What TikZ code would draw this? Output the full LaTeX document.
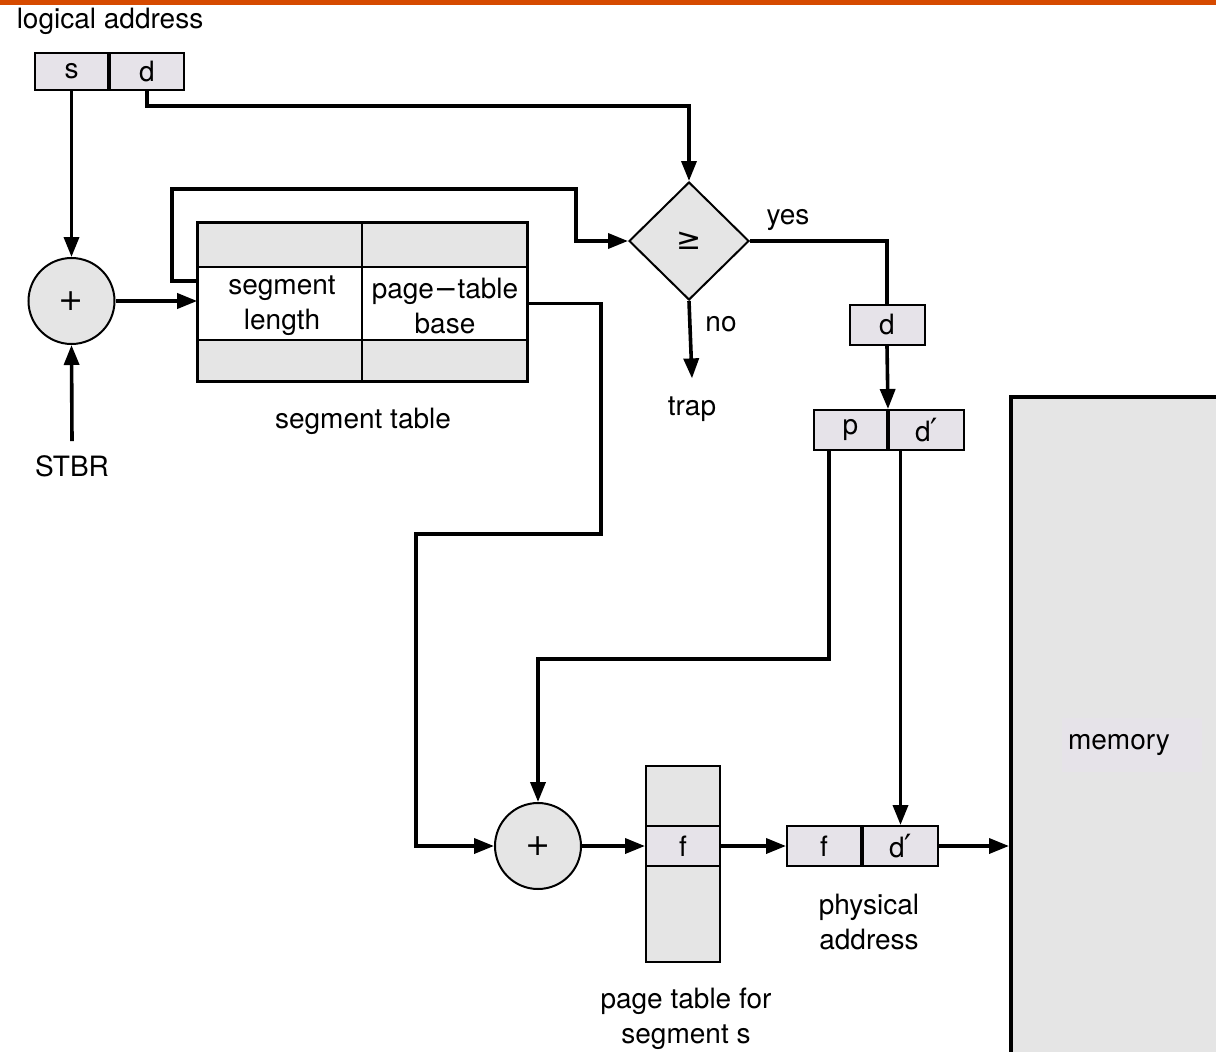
\documentclass[tikz,border=0pt]{standalone}
\usepackage{amsmath}
\usepackage{amssymb}
\usepackage{fontspec}
\setmainfont{TeX Gyre Heros}
\newfontfamily\symfont{DejaVu Sans}
\usepackage{tikz}
\usetikzlibrary{positioning, arrows.meta, shapes.geometric, calc}
\definecolor{barorange}{HTML}{D64A00}
\definecolor{cellgray}{HTML}{E5E5E5}
\definecolor{boxgray}{HTML}{E6E3E9}
\newcommand{\dprime}{d{\symfont\fontsize{32}{32}\selectfont ′}}
\newcommand{\plussign}{{\symfont\fontsize{30}{30}\selectfont +}}
\tikzset{
  wire/.style={line width=3.6pt},
  arr/.style={wire, -{Triangle[length=20pt, width=15pt]}},
  cell/.style={draw, line width=2pt, fill=boxgray, inner sep=0pt, minimum height=40pt},
  tabcell/.style={draw, line width=1.6pt, fill=cellgray, inner sep=0pt, align=center},
  adder/.style={circle, draw, line width=2pt, fill=cellgray, minimum size=86pt, inner sep=0pt},
  lbl/.style={align=center, inner sep=0pt}
}

\begin{document}
\begin{tikzpicture}[x=1pt, y=-1pt, font=\fontsize{28}{35}\selectfont]
    \useasboundingbox (0,0) rectangle (1216,1052);
    \clip (0,0) rectangle (1216,1052);
    % Top bar
    \fill[barorange] (0,0) rectangle (1216,5);
    % Logical address
    \node[lbl] (lalabel) at (110,21) {logical address};
    \node[cell, minimum width=73pt, minimum height=37pt] (ls) at (71.5,71.5) {s};
    \node[cell, minimum width=74pt, minimum height=37pt, right=0pt of ls] (ld) {d};
    % STBR adder
    \node[adder] (add1) at (71.5,301) {\plussign};
    \node[lbl] (stbr) at (72,466) {STBR};
    \draw[arr] (ls.south) -- (add1.north);
    \draw[arr] ([yshift=14pt]stbr.north) -- (add1.south);
    % Segment table
    \node[tabcell, minimum width=164pt, minimum height=44pt] (segtop1) at (280,245) {};
    \node[tabcell, minimum width=165pt, minimum height=44pt] (segtop2) at (444.5,245) {};
    \node[tabcell, fill=white, minimum width=164pt, minimum height=73pt] (seglen) at (280,303.5) {};
    \node[tabcell, fill=white, minimum width=165pt, minimum height=73pt] (ptbase) at (444.5,303.5) {};
    \node[lbl] (seglentext) at (282,306) {segment\\length};
    \node[lbl] (ptbasetext) at (445,306) {page{\symfont −}table\\base};
    \node[tabcell, minimum width=164pt, minimum height=41pt] (segbot1) at (280,360.5) {};
    \node[tabcell, minimum width=165pt, minimum height=41pt] (segbot2) at (444.5,360.5) {};
    \draw[line width=2.2pt] (segtop1.north west) rectangle (segbot2.south east);
    \node[lbl] (seglabel) at (363,421) {segment table};
    \draw[arr] (add1.east) -- (add1.east -| seglen.west);
    % Compare
    \node[diamond, draw, line width=2pt, fill=cellgray, minimum width=120pt, minimum height=118pt, inner sep=0pt] (ge) at (689,241) {{\symfont\fontsize{30}{30}\selectfont ≥}};
    \draw[arr] (ld.south) -- ++(0,15) -| (ge.north);
    \draw[arr] ([yshift=22.5pt]seglen.west) -| (172,189) -| (576,241) -- (ge.west);
    \node[lbl] (yes) at (788,220) {yes};
    \node[lbl] (no) at (721,324) {no};
    \node[lbl] (trap) at (692,409) {trap};
    \draw[arr] (ge.south) -- ([yshift=18pt]trap.north);
    % Offset d and p/d'
    \node[cell, minimum width=75pt] (dd) at (887,325) {d};
    \draw[wire] (ge.east) -| (dd.north);
    \node[cell, minimum width=73pt] (pp) at (850.5,430) {p};
    \node[cell, minimum width=75pt, right=0pt of pp] (pdp) {\dprime};
    \draw[arr] (dd.south) -- (pp.north east);
    % Page table adder
    \node[adder] (add2) at (538,846) {\plussign};
    \draw[arr] (ptbase.east) -| (601,534) -| (416,846) -- (add2.west);
    \draw[arr] ([xshift=-21.5pt]pp.south) |- (538,659) -- (add2.north);
    % Page table for segment s
    \node[cell, fill=cellgray, minimum width=74pt, minimum height=196pt] (ptab) at (683,864) {};
    \node[cell, fill=boxgray, minimum width=74pt] (pf) at (683,846) {f};
    \node[lbl] (ptlabel) at (686,1019) {page table for\\segment s};
    \draw[arr] (add2.east) -- (pf.west);
    % Physical address
    \node[cell, minimum width=74pt] (pf2) at (824,846) {f};
    \node[cell, minimum width=75pt, right=0pt of pf2] (pd2) {\dprime};
    \node[lbl] (palabel) at (869,922) {physical\\address};
    \draw[arr] (pf.east) -- (pf2.west);
    \draw[arr] (pd2.north |- pdp.south) -- (pd2.north);
    % Memory
    \node[draw, line width=3.5pt, fill=cellgray, anchor=north west, minimum width=260pt, minimum height=700pt] (mem) at (1009,395) {};
    \node[fill=boxgray, minimum width=140pt, minimum height=54pt, inner sep=0pt] (membg) at (1132,745) {};
    \node[lbl] (memlabel) at (1119,745) {memory};
    \draw[arr] (pd2.east) -- (pd2.east -| mem.west);
\end{tikzpicture}
\end{document}
